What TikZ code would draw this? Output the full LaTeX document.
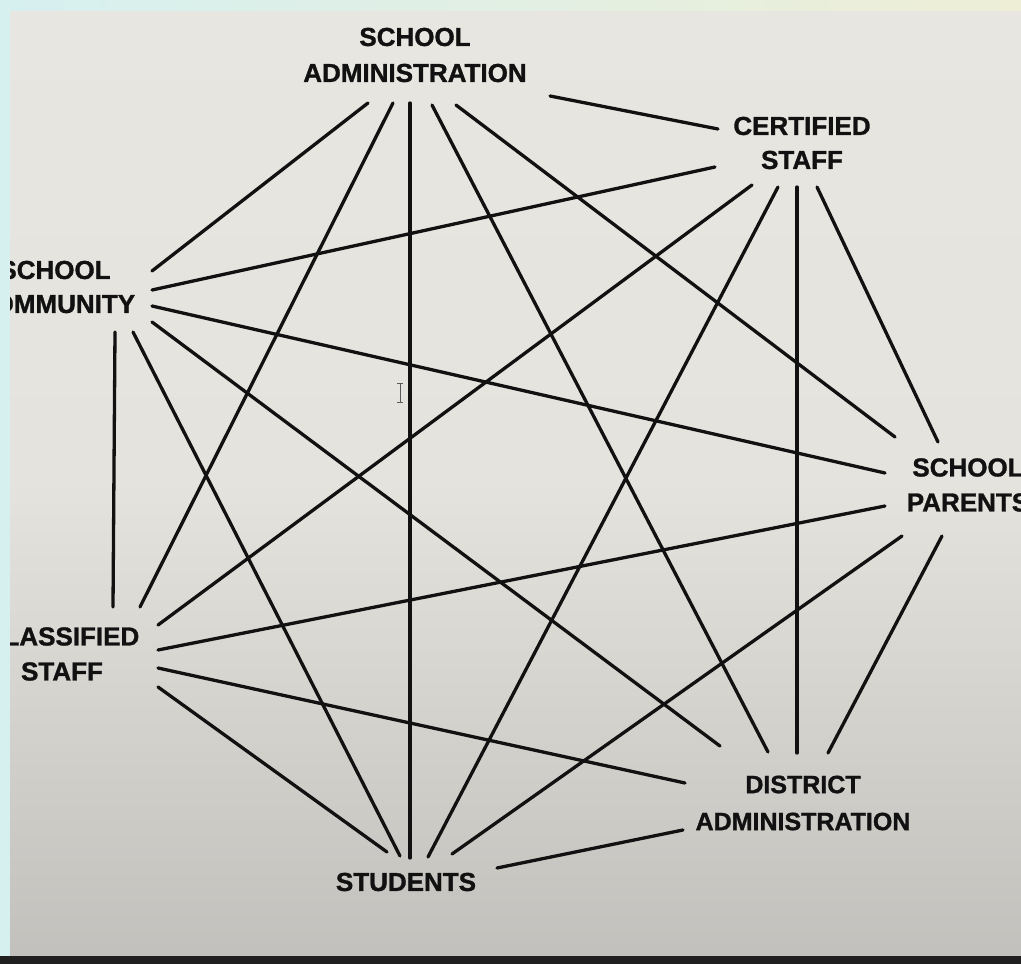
\documentclass[tikz,border=0pt]{standalone}
\usepackage{fontspec}
\setmainfont{Liberation Sans}[BoldFeatures={FakeBold=1.2}]
\definecolor{paperTop}{HTML}{E8E6E0}
\definecolor{paperBot}{HTML}{C2C0BC}
\definecolor{rimCyan}{HTML}{D6F0F0}
\definecolor{rimYellow}{HTML}{EEEED6}
\definecolor{ink}{HTML}{111111}
\tikzset{
  lbl/.style={font=\fontsize{26}{35}\selectfont\bfseries, text=ink, align=center, inner sep=0pt},
  link/.style={draw=ink, line width=3.3pt, line cap=round}
}
\begin{document}
\begin{tikzpicture}[x=1pt,y=-1pt]
\useasboundingbox (0,0) rectangle (1021,964);
\clip (0,0) rectangle (1021,964);
% paper
\shade[top color=paperTop, bottom color=paperBot, middle color=paperTop!92!paperBot] (0,0) rectangle (1021,964);
% labels
\node[lbl, font=\fontsize{26}{36}\selectfont\bfseries] (A) at (415,55) {SCHOOL\\ADMINISTRATION};
\node[lbl, font=\fontsize{26}{34}\selectfont\bfseries] (C) at (802,143) {CERTIFIED\\STAFF};
\node[lbl, font=\fontsize{26}{34}\selectfont\bfseries] (M) at (55,287) {SCHOOL\\COMMUNITY};
\node[lbl] (L) at (62,654) {CLASSIFIED\\STAFF};
\node[lbl] (P) at (968,485) {SCHOOL\\PARENTS};
\node[lbl, font=\fontsize{25}{37}\selectfont\bfseries] (D) at (803,803) {DISTRICT\\ADMINISTRATION};
\node[lbl] (S) at (406,882) {STUDENTS};
% connector end points
\coordinate (aM) at (368,103); \coordinate (aL) at (393,103); \coordinate (aS) at (410,103);
\coordinate (aD) at (432,105); \coordinate (aP) at (456,105); \coordinate (aC) at (550,96);
\coordinate (cA) at (718,129); \coordinate (cM) at (715,167); \coordinate (cL) at (752,185);
\coordinate (cS) at (778,187); \coordinate (cD) at (797,187); \coordinate (cP) at (817,187);
\coordinate (mA) at (152,271); \coordinate (mC) at (152,290); \coordinate (mP) at (152,306);
\coordinate (mD) at (152,322); \coordinate (mS) at (133,332); \coordinate (mL) at (115,332);
\coordinate (lM) at (113,607); \coordinate (lA) at (140,607); \coordinate (lC) at (158,625);
\coordinate (lP) at (158,650); \coordinate (lD) at (158,668); \coordinate (lS) at (158,687);
\coordinate (pA) at (895,437); \coordinate (pC) at (938,442); \coordinate (pM) at (885,473);
\coordinate (pL) at (885,506); \coordinate (pS) at (902,536); \coordinate (pD) at (942,536);
\coordinate (dM) at (720,746); \coordinate (dA) at (768,752); \coordinate (dC) at (797,753);
\coordinate (dP) at (828,753); \coordinate (dL) at (685,783); \coordinate (dS) at (683,830);
\coordinate (sL) at (387,852); \coordinate (sM) at (400,856); \coordinate (sA) at (410,858);
\coordinate (sC) at (428,857); \coordinate (sP) at (452,854); \coordinate (sD) at (497,868);
% connectors
\draw[link] (aM) -- (mA);
\draw[link] (aL) -- (lA);
\draw[link] (aS) -- (sA);
\draw[link] (aD) -- (dA);
\draw[link] (aP) -- (pA);
\draw[link] (aC) -- (cA);
\draw[link] (cM) -- (mC);
\draw[link] (cL) -- (lC);
\draw[link] (cS) -- (sC);
\draw[link] (cD) -- (dC);
\draw[link] (cP) -- (pC);
\draw[link] (mP) -- (pM);
\draw[link] (mD) -- (dM);
\draw[link] (mS) -- (sM);
\draw[link] (mL) -- (lM);
\draw[link] (lP) -- (pL);
\draw[link] (lD) -- (dL);
\draw[link] (lS) -- (sL);
\draw[link] (pS) -- (sP);
\draw[link] (pD) -- (dP);
\draw[link] (dS) -- (sD);
% screen cursor
\draw[gray!70!black, line width=0.7pt] (400,383) -- (400,402) (397,383) -- (403,383) (397,402) -- (403,402);
% photo rims
\fill[rimCyan] (0,0) rectangle (10,964);
\shade[left color=rimCyan, right color=rimYellow] (0,0) rectangle (1021,10);
\fill[black!88] (0,956) rectangle (1021,964);
\end{tikzpicture}
\end{document}
